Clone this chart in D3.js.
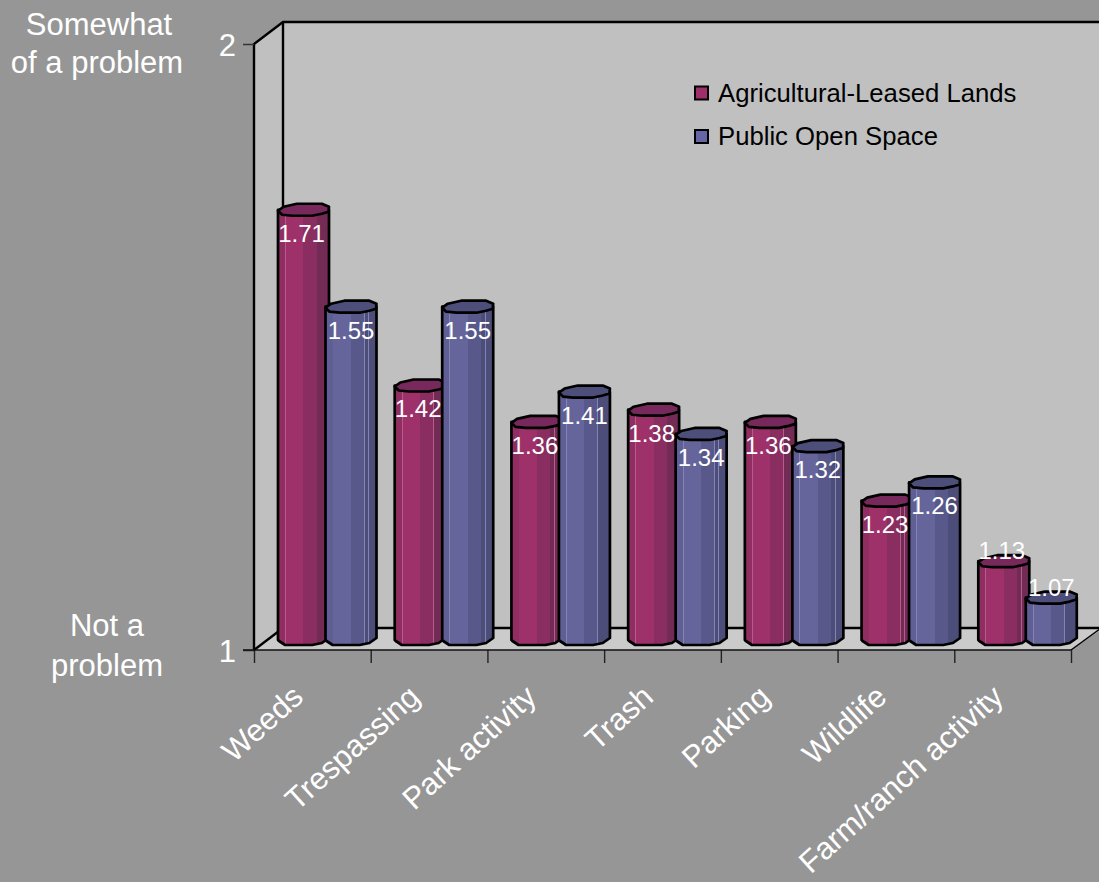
<!DOCTYPE html>
<html><head><meta charset="utf-8">
<script src="https://cdn.jsdelivr.net/npm/d3@7"></script>
<style>html,body{margin:0;padding:0;background:#969696}svg{display:block}text{font-family:"Liberation Sans",Arial,sans-serif}</style>
</head><body><svg id="c" width="1099" height="882"></svg>
<script>
const categories=["Weeds","Trespassing","Park activity","Trash","Parking","Wildlife","Farm/ranch activity"];
const seriesNames=["Agricultural-Leased Lands","Public Open Space"];
const agricultural=[1.71,1.42,1.36,1.38,1.36,1.23,1.13];
const publicSpace=[1.55,1.55,1.41,1.34,1.32,1.26,1.07];
const seriesValues=[agricultural,publicSpace];
const yTicks=[1,2];
const tones=[
 {top:"#76295a",a:"#902e62",b:"#9e3169",c:"#8a2d60",d:"#722b54",line:"#b85a8c",key:"#9e2f6a"},
 {top:"#4e4e7a",a:"#5f5f96",b:"#65659b",c:"#58588a",d:"#4d4d7a",line:"#8484b4",key:"#6666a6"}];
const W=1099,H=882,x0=254,x1=1071,yBottom=650,yTop=44,dx=29,dy=22;
const svg=d3.select("#c");
const y=d3.scaleLinear().domain([1,2]).range([yBottom,yTop]);
const x=d3.scaleBand().domain(categories).range([x0,x1]);
const inner=d3.scaleBand().domain(seriesNames).range([24,24+95]);
const barW=inner.bandwidth()+3.5;
const baseLift=10;
const defs=svg.append("defs");
tones.forEach((t,i)=>{
 const g=defs.append("linearGradient").attr("id","g"+i);
 [[0,t.a],[.14,t.a],[.14,t.line],[.155,t.line],[.155,t.b],[.5,t.b],[.5,t.c],[.755,t.c],[.755,t.line],[.765,t.line],[.765,t.d],[.84,t.d],[.84,t.line],[.85,t.line],[.85,t.d],[1,t.d]]
 .forEach(s=>g.append("stop").attr("offset",s[0]).attr("stop-color",s[1]));
});
// walls
const poly=d3.line();
svg.append("path").attr("d",poly([[x0,yTop],[x0+dx,yTop-dy],[W+5,yTop-dy],[W+5,yBottom-dy],[x0+dx,yBottom-dy],[x0,yBottom]])+"Z").attr("fill","#c0c0c0");
svg.append("path").attr("d",poly([[x0,yBottom],[x0+dx,yBottom-dy],[W+5,yBottom-dy],[x1,yBottom]])+"Z").attr("fill","#cbcbcb");
const bl=(pts,w=2.4)=>svg.append("path").attr("d",poly(pts)).attr("fill","none").attr("stroke","#000").attr("stroke-width",w);
bl([[x0,yBottom],[x0,yTop],[x0+dx,yTop-dy],[W+5,yTop-dy]]);
bl([[x0+dx,yTop-dy],[x0+dx,yBottom-dy],[W+5,yBottom-dy]]);
bl([[x0,yBottom],[x0+dx,yBottom-dy]]);
bl([[x1,yBottom],[W+5,yBottom-dy-2]],1.4);
// axes
const yAxis=d3.axisLeft(y).tickValues(yTicks).tickSize(11).tickPadding(7).tickFormat(d3.format("d"));
const gy=svg.append("g").attr("transform",`translate(${x0},0)`).call(yAxis);
gy.select(".domain").remove();
gy.selectAll("line").attr("stroke","#333").attr("stroke-width",1.5);
gy.selectAll("text").attr("fill","#fff").attr("font-size",31).attr("font-family","Liberation Sans").attr("dy","0.36em");
const bottomTicks=categories.map(c=>x(c)).concat([x1]);
const xLinear=d3.scaleLinear().domain([x0,x1]).range([x0,x1]);
const gx=svg.append("g").attr("transform",`translate(0,${yBottom})`).call(d3.axisBottom(xLinear).tickValues(bottomTicks).tickSize(13).tickFormat(""));
gx.select(".domain").remove();
gx.selectAll("line").attr("stroke","#222").attr("stroke-width",1.4);
svg.append("line").attr("x1",x0-11).attr("x2",x1).attr("y1",yBottom).attr("y2",yBottom).attr("stroke","#111").attr("stroke-width",1.5);
// bars
const topOutline=[[0,1],[.11,-3],[.37,-6],[.86,-6],[1,-3],[.99,2],[.86,4],[.67,6],[.28,6],[.08,5]];
const bottomCurve=[[1,-7],[.86,-2],[.67,0],[.14,0],[.02,-4]];
categories.forEach((c,ci)=>{
 seriesNames.forEach((s,si)=>{
  const v=seriesValues[si][ci];
  const L=x(c)+inner(s), R=L+barW, top=y(v)-baseLift, base=yBottom-5;
  const px=f=>L+f*barW;
  const body=[[L,top],[L,base-5]].concat(bottomCurve.slice().reverse().map(p=>[px(p[0]),base+p[1]]),[[R,top]]);
  svg.append("path").attr("d",poly(body)+"Z").attr("fill",`url(#g${si})`).attr("stroke","#000").attr("stroke-width",2.7).attr("stroke-linejoin","round");
  svg.append("path").attr("d",poly(topOutline.map(p=>[px(p[0]),top+p[1]]))+"Z").attr("fill",tones[si].top).attr("stroke","#000").attr("stroke-width",2.7).attr("stroke-linejoin","round");
 });
});
// data labels
categories.forEach((c,ci)=>{
 seriesNames.forEach((s,si)=>{
  const v=seriesValues[si][ci];
  const L=x(c)+inner(s), top=y(v)-baseLift;
  svg.append("text").attr("x",L+barW/2-(si?0:2)).attr("y",v<1.15?top-2:top+32).attr("text-anchor","middle").attr("fill","#fff").attr("font-size",24).text(d3.format(".2f")(v));
 });
});
// category labels
categories.forEach(c=>{
 const cx=x(c)+x.bandwidth()/2-24;
 svg.append("text").attr("transform",`translate(${cx},681) rotate(-42)`).attr("text-anchor","end").attr("dy","0.8em").attr("fill","#fff").attr("font-size",31).text(c);
});
// side notes
[["Somewhat",99,35],["of a problem",97,73],["Not a",107,636],["problem",107,676]].forEach(d=>{
 svg.append("text").attr("x",d[1]).attr("y",d[2]).attr("text-anchor","middle").attr("fill","#fff").attr("font-size",31).text(d[0]);
});
// legend
seriesNames.forEach((s,i)=>{
 const ly=d3.scalePoint().domain(seriesNames).range([93,136.5])(s);
 svg.append("rect").attr("x",695).attr("y",ly-6.5).attr("width",13).attr("height",13).attr("fill",tones[i].key).attr("stroke","#000").attr("stroke-width",2);
 svg.append("text").attr("x",718).attr("y",ly+8.5).attr("fill","#000").attr("font-size",25.7).text(s);
});
</script></body></html>
